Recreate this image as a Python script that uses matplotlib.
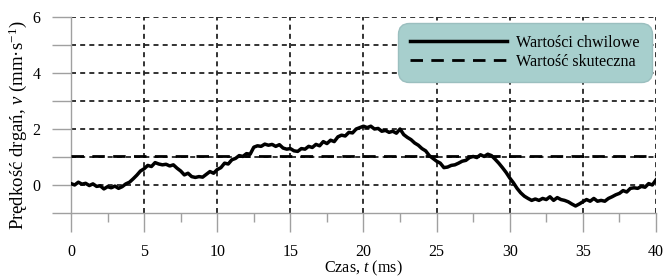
import numpy as np
import matplotlib
matplotlib.use("Agg")
import matplotlib.pyplot as plt
from matplotlib.ticker import FixedLocator, FuncFormatter

plt.rcParams['font.family'] = ['Liberation Serif', 'DejaVu Serif']
plt.rcParams['mathtext.fontset'] = 'custom'
plt.rcParams['mathtext.rm'] = 'Liberation Serif'
plt.rcParams['mathtext.it'] = 'Liberation Serif:italic'

# time axis (ms), 0.25 ms step
czas = np.arange(0, 40.001, 0.25)

# instantaneous vibration velocity (mm/s)
predkosc = [
    0.05, 0.00, 0.10, 0.03, 0.06, -0.02, 0.04, -0.05, -0.03, -0.14,
    -0.06, -0.10, -0.04, -0.12, -0.06, 0.04, 0.10, 0.22, 0.35, 0.50,
    0.58, 0.70, 0.66, 0.80, 0.75, 0.72, 0.74, 0.68, 0.72, 0.60,
    0.50, 0.36, 0.42, 0.30, 0.27, 0.30, 0.28, 0.38, 0.48, 0.42,
    0.55, 0.62, 0.78, 0.75, 0.90, 0.95, 1.05, 1.02, 1.12, 1.10,
    1.35, 1.40, 1.38, 1.46, 1.42, 1.45, 1.38, 1.44, 1.32, 1.28,
    1.30, 1.22, 1.20, 1.30, 1.28, 1.38, 1.34, 1.45, 1.40, 1.55,
    1.48, 1.60, 1.55, 1.72, 1.78, 1.75, 1.88, 1.86, 2.00, 2.05,
    2.10, 2.05, 2.10, 2.00, 2.02, 1.92, 1.95, 1.88, 1.92, 1.85,
    2.00, 1.80, 1.70, 1.62, 1.50, 1.42, 1.30, 1.22, 1.05, 0.95,
    0.85, 0.78, 0.62, 0.64, 0.70, 0.72, 0.78, 0.85, 0.88, 0.98,
    1.02, 0.98, 1.08, 1.02, 1.10, 1.05, 0.92, 0.78, 0.62, 0.45,
    0.25, 0.08, -0.12, -0.28, -0.40, -0.48, -0.55, -0.50, -0.55, -0.48,
    -0.52, -0.42, -0.55, -0.45, -0.52, -0.55, -0.60, -0.68, -0.75, -0.68,
    -0.60, -0.52, -0.58, -0.48, -0.58, -0.55, -0.58, -0.48, -0.42, -0.35,
    -0.30, -0.20, -0.25, -0.12, -0.10, -0.12, -0.05, -0.08, 0.05, 0.00,
    0.18,
]

# RMS value (mm/s)
skuteczna = 1.05

fig = plt.figure(figsize=(6.68, 2.79), dpi=100)
ax = fig.add_axes([0.1063, 0.2366, 0.8757, 0.7024])

ax.plot(czas, predkosc, color='black', lw=2.5, label='Wartości chwilowe', zorder=4)
ax.axhline(skuteczna, color='black', lw=2.0, dashes=(4.5, 3), label='Wartość skuteczna', zorder=3)

ax.set_xlim(0, 40)
ax.set_ylim(-1, 6)

ax.xaxis.set_major_locator(FixedLocator(np.arange(0, 41, 5)))
ax.xaxis.set_minor_locator(FixedLocator(np.arange(2.5, 40, 5)))
ax.yaxis.set_major_locator(FixedLocator(np.arange(-1, 7, 1)))
ax.yaxis.set_major_formatter(FuncFormatter(lambda v, p: '%d' % v if v >= 0 and int(round(v)) % 2 == 0 else ''))

for s in ['top', 'right']:
    ax.spines[s].set_visible(False)
for s in ['left', 'bottom']:
    ax.spines[s].set_color('#a0a0a0')
    ax.spines[s].set_linewidth(1.0)

ax.tick_params(which='major', direction='out', length=14, width=1.0, color='#a0a0a0',
               labelsize=11.5, pad=8)
ax.tick_params(which='minor', axis='x', direction='out', length=6.5, width=1.0, color='#a0a0a0')

ax.grid(True, which='major', color='#111111', lw=1.2, linestyle=(0, (3, 2.5)))
ax.xaxis.get_gridlines()[0].set_visible(False)
ax.yaxis.get_gridlines()[0].set_visible(False)
ax.set_axisbelow(True)

ax.set_xlabel('Czas, $t$ (ms)', fontsize=11.6, labelpad=-0.5)
ax.set_ylabel('Prędkość drgań, $v$ (mm·s$^{-1}$)', fontsize=13.5, labelpad=3)
ax.yaxis.set_label_coords(-0.072, 0.45)

leg = ax.legend(loc='upper right', bbox_to_anchor=(0.993, 0.972), fontsize=11.6,
                handlelength=6.0, handletextpad=0.6, borderpad=0.75, labelspacing=0.2,
                fancybox=True, framealpha=1, borderaxespad=0)
leg.get_frame().set_facecolor('#a7cfcd')
leg.get_frame().set_edgecolor('#9bbfbf')
leg.get_frame().set_boxstyle('round', pad=0, rounding_size=0.7)

fig.savefig('out.png', dpi=100)
